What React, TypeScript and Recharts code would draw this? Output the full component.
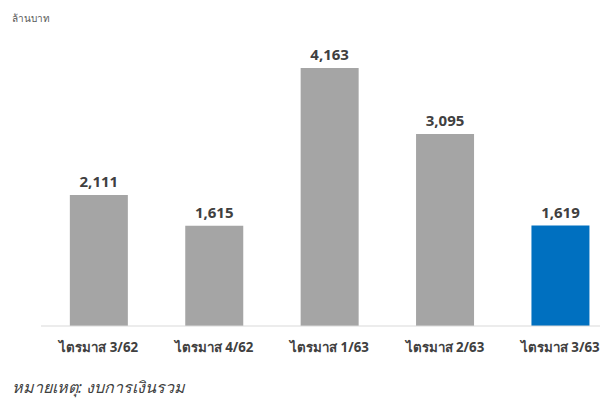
import React from "react";
import { BarChart, Bar, XAxis, YAxis, Cell, LabelList } from "recharts";

const categories = ["ไตรมาส 3/62", "ไตรมาส 4/62", "ไตรมาส 1/63", "ไตรมาส 2/63", "ไตรมาส 3/63"];
const values = [2111, 1615, 4163, 3095, 1619];
const colors = ["#A5A5A5", "#A5A5A5", "#A5A5A5", "#A5A5A5", "#0070C0"];
const unitLabel = "ล้านบาท";
const note = "หมายเหตุ: งบการเงินรวม";

const data = categories.map((c, i) => ({ name: c, value: values[i] }));

const FONT = "Tahoma, 'Noto Sans', 'DejaVu Sans', sans-serif";

export default function App() {
  return (
    <div style={{ position: "relative", width: 600, height: 397, overflow: "hidden", fontFamily: FONT }}>
      <div style={{ position: "absolute", left: 4, top: 3, fontSize: 10, color: "#595959" }}>{unitLabel}</div>
      <BarChart
        width={610}
        height={397}
        data={data}
        margin={{ top: 8, right: 0, bottom: 49, left: 33 }}
        barCategoryGap="25%"
      >
        <XAxis
          dataKey="name"
          axisLine={{ stroke: "#D9D9D9", strokeWidth: 1 }}
          tickLine={false}
          height={30}
          tickMargin={11}
          interval={0}
          tick={{ fill: "#404040", fontSize: 13.3, fontWeight: "bold", fontFamily: FONT }}
        />
        <YAxis hide domain={[0, 5000]} />
        <Bar dataKey="value" isAnimationActive={false}>
          {data.map((d, i) => (
            <Cell key={i} fill={colors[i]} />
          ))}
          <LabelList
            dataKey="value"
            position="top"
            offset={8}
            formatter={(v: number) => v.toLocaleString("en-US")}
            style={{ fill: "#404040", fontSize: 15, fontWeight: "bold", fontFamily: FONT }}
          />
        </Bar>
      </BarChart>
      <div style={{ position: "absolute", left: 4, top: 367, fontSize: 16, fontStyle: "italic", color: "#404040" }}>{note}</div>
    </div>
  );
}
